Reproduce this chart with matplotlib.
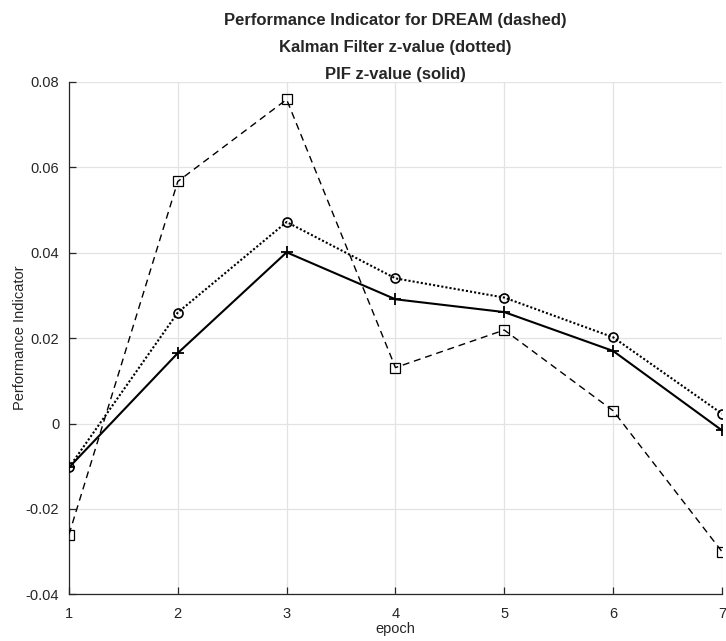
import numpy as np
import matplotlib.pyplot as plt

plt.rcParams.update({
    'font.family': ['Liberation Sans', 'DejaVu Sans'],
    'axes.unicode_minus': False,
    'text.color': '#262626',
    'axes.labelcolor': '#262626',
    'xtick.color': '#262626',
    'ytick.color': '#262626',
})

# ── Data ─────────────────────────────────────────────────────────
epoch = [1, 2, 3, 4, 5, 6, 7]
dream = [-0.0260, 0.0567, 0.0759, 0.0131, 0.0219, 0.0030, -0.0300]
kalman = [-0.0103, 0.0260, 0.0472, 0.0340, 0.0295, 0.0202, 0.0023]
pif = [-0.0103, 0.0165, 0.0401, 0.0291, 0.0261, 0.0170, -0.0016]

fig = plt.figure(figsize=(7.26, 6.41), dpi=100)
ax = fig.add_axes([0.0950, 0.0729, 0.8994, 0.7992])

ax.plot(epoch, dream, color='k', lw=1.0, ls=(0, (5, 3.5)), marker='s',
        ms=6.5, mfc='none', mec='k', mew=0.9, zorder=3)
ax.plot(epoch, kalman, color='k', lw=1.5, ls=(0, (1, 1)), marker='o',
        ms=6.5, mfc='none', mec='k', mew=1.2, zorder=3)
ax.plot(epoch, pif, color='k', lw=1.5, ls='-', marker='+',
        ms=8, mec='k', mew=1.3, zorder=4)

ax.set_xlim(1, 7)
ax.set_ylim(-0.04, 0.08)
ax.set_xticks(epoch)
ax.set_yticks([-0.04, -0.02, 0, 0.02, 0.04, 0.06, 0.08])
ax.set_yticklabels(['-0.04', '-0.02', '0', '0.02', '0.04', '0.06', '0.08'])

ax.grid(True, color='#e3e3e3', lw=0.9)
ax.set_axisbelow(True)
for side in ['top', 'right']:
    ax.spines[side].set_visible(False)
for side in ['left', 'bottom']:
    ax.spines[side].set_color('#262626')
    ax.spines[side].set_linewidth(0.9)
ax.tick_params(direction='in', length=5, width=0.9, labelsize=10.5,
               top=False, right=False)
ax.tick_params(axis='x', pad=9)
ax.tick_params(axis='y', pad=7)

ax.set_xlabel('epoch', fontsize=10.5, labelpad=1)
ax.set_ylabel('Performance Indicator', fontsize=10.5, labelpad=-1)
ax.set_title('Performance Indicator for DREAM (dashed)\n'
             'Kalman Filter z-value (dotted)\n'
             'PIF z-value (solid)',
             fontsize=12, fontweight='bold', linespacing=2.0, pad=2)

fig.savefig('out.png', dpi=100, facecolor='white')
